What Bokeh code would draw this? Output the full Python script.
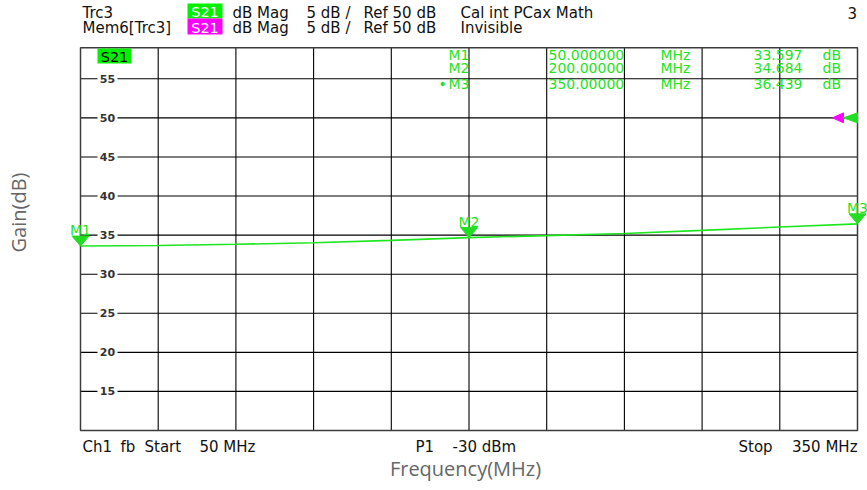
import math
from bokeh.plotting import figure
from bokeh.models import Range1d
from bokeh.core.properties import value
from bokeh.embed import file_html
from bokeh.resources import INLINE

# ---------------- data ----------------
freq_mhz = [50, 80, 110, 140, 170, 200, 230, 260, 290, 320, 350]
gain_db = [33.60, 33.66, 33.82, 34.02, 34.32, 34.68, 34.93, 35.20, 35.60, 36.03, 36.44]

marker_names = ["M1", "M2", "M3"]
marker_freq = [50.0, 200.0, 350.0]
marker_gain = [33.597, 34.684, 36.439]
marker_freq_text = ["50.000000", "200.00000", "350.00000"]
marker_gain_text = ["33.597", "34.684", "36.439"]

y_ticks = [15, 20, 25, 30, 35, 40, 45, 50, 55]
x_grid = [80, 110, 140, 170, 200, 230, 260, 290, 320]
f_start, f_stop = 50, 350
y_bottom = 10
ref_level = 50

# ---------------- layout helpers (picture pixel -> data) ----------------
W, H = 867, 490
OFF = 0
PX_F0, PX_F1 = 80.0, 857.0
PX_Y10, PX_PER_5DB = 430.0, 39.08


def fx(px):
    return f_start + (px - PX_F0) * (f_stop - f_start) / (PX_F1 - PX_F0)


def gy(py):
    return y_bottom + (PX_Y10 - py) * 5.0 / PX_PER_5DB


def dfx(dpx):
    return dpx * (f_stop - f_start) / (PX_F1 - PX_F0)


def dgy(dpx):
    return dpx * 5.0 / PX_PER_5DB


y_top = gy(47.3)

p = figure(width=W, height=H,
           x_range=Range1d(fx(OFF), fx(OFF + W)),
           y_range=Range1d(gy(OFF + H), gy(OFF)),
           output_backend="svg", toolbar_location=None,
           x_axis_type=None, y_axis_type=None,
           min_border=0, outline_line_color=None)
p.background_fill_color = "white"
p.border_fill_color = "white"

INST = value("DejaVu Sans")
TITLE = value("Open Sans")
GREEN_TXT = "#22e422"
GREEN_LINE = "#1ee61e"

# grid
p.segment(x0=x_grid, y0=[y_bottom] * len(x_grid), x1=x_grid, y1=[y_top] * len(x_grid),
          line_color="#000000", line_width=1.1)
p.segment(x0=[f_start] * len(y_ticks), y0=y_ticks, x1=[f_stop] * len(y_ticks), y1=y_ticks,
          line_color="#000000", line_width=1.1)
p.quad(left=[f_start], right=[f_stop], bottom=[y_bottom], top=[y_top],
       fill_color=None, line_color="#3c3c3c", line_width=1.5)

# y tick labels inside the grid
tick_x = [fx(107)] * len(y_ticks)
p.rect(x=tick_x, y=y_ticks, width=20, height=11, width_units="screen",
       height_units="screen", fill_color="white", line_color=None)
p.text(x=tick_x, y=y_ticks, text=[str(t) for t in y_ticks], text_align="center",
       text_baseline="middle", text_font=INST, text_font_style="bold",
       text_font_size="11px", text_color="#333333")

# trace
p.line(freq_mhz, gain_db, line_color=GREEN_LINE, line_width=1.6)

# markers (down triangles with tip on the trace)
hw, th = dfx(8.5), dgy(10)
p.patches(xs=[[f - hw, f + hw, f] for f in marker_freq],
          ys=[[g + th, g + th, g] for g in marker_gain],
          fill_color="#22dd22", line_color="#22dd22")
p.text(x=marker_freq, y=marker_gain, text=marker_names, y_offset=-16,
       text_align="center", text_baseline="middle", text_font=INST,
       text_font_size="14px", text_color=GREEN_TXT)

# reference level arrows on right edge
rh = dgy(5)
p.patches(xs=[[f_stop - dfx(25), f_stop - dfx(14), f_stop - dfx(14)]],
          ys=[[ref_level, ref_level + rh, ref_level - rh]],
          fill_color="#ff00ff", line_color="#ff00ff")
p.patches(xs=[[f_stop - dfx(14), f_stop, f_stop]],
          ys=[[ref_level, ref_level + rh, ref_level - rh]],
          fill_color="#22dd22", line_color="#22dd22")

# header boxes
p.quad(left=[fx(187), fx(187), fx(97)], right=[fx(222), fx(222), fx(131)],
       top=[gy(3), gy(18), gy(48)], bottom=[gy(18), gy(34), gy(63)],
       fill_color=["#00f000", "#ff00ff", "#00f000"], line_color=None)
p.text(x=[fx(204.5), fx(204.5), fx(114)], y=[gy(11.5), gy(27.3), gy(56)],
       text=["S21", "S21", "S21"], text_color=["white", "white", "black"],
       text_align="center", text_baseline="middle", text_font=INST,
       text_font_size="14.5px")

# header text
hdr_text = ["Trc3", "dB Mag", "5 dB /", "Ref 50 dB", "Cal int PCax Math", "3",
            "Mem6[Trc3]", "dB Mag", "5 dB /", "Ref 50 dB", "Invisible"]
hdr_px = [82, 232, 306, 363, 460, 847, 82, 232, 306, 363, 460]
hdr_py = [12.2] * 6 + [27.6] * 5
p.text(x=[fx(v) for v in hdr_px], y=[gy(v) for v in hdr_py], text=hdr_text,
       text_align="left", text_baseline="middle", text_font=INST,
       text_font_size="15px", text_color="#111111")

# marker table
row_py = [54.0, 67.5, 83.3]
rows_y = [gy(v) for v in row_py]
tf = "14px"
kw = dict(text_baseline="middle", text_font=INST, text_font_size=tf, text_color=GREEN_TXT)
p.text(x=[fx(448)] * 3, y=rows_y, text=marker_names, text_align="left", **kw)
p.text(x=[fx(438)], y=[rows_y[2]], text=["\u2022"], text_align="left", **kw)
p.text(x=[fx(548)] * 3, y=rows_y, text=marker_freq_text, text_align="left", **kw)
p.text(x=[fx(660)] * 3, y=rows_y, text=["MHz"] * 3, text_align="left", **kw)
p.text(x=[fx(802)] * 3, y=rows_y, text=marker_gain_text, text_align="right", **kw)
p.text(x=[fx(822)] * 3, y=rows_y, text=["dB"] * 3, text_align="left", **kw)

# footer
ftr_text = ["Ch1", "fb", "Start", "50 MHz", "P1", "-30 dBm", "Stop"]
ftr_px = [82, 120, 144, 199, 415, 452, 738]
fkw = dict(text_baseline="middle", text_font=INST, text_font_size="15px",
           text_color="#111111")
p.text(x=[fx(v) for v in ftr_px], y=[gy(446)] * len(ftr_px), text=ftr_text,
       text_align="left", **fkw)
p.text(x=[fx(857)], y=[gy(446)], text=["350 MHz"], text_align="right", **fkw)

# axis titles
p.text(x=[fx(18)], y=[gy(212)], text=["Gain(dB)"], angle=math.pi / 2,
       text_align="center", text_baseline="middle", text_font=TITLE,
       text_font_size="20px", text_color="#666666")
p.text(x=[fx(465)], y=[gy(468)], text=["Frequency(MHz)"], text_align="center",
       text_baseline="middle", text_font=TITLE, text_font_size="20px",
       text_color="#666666")

open("out.html", "w").write(file_html(p, INLINE))
